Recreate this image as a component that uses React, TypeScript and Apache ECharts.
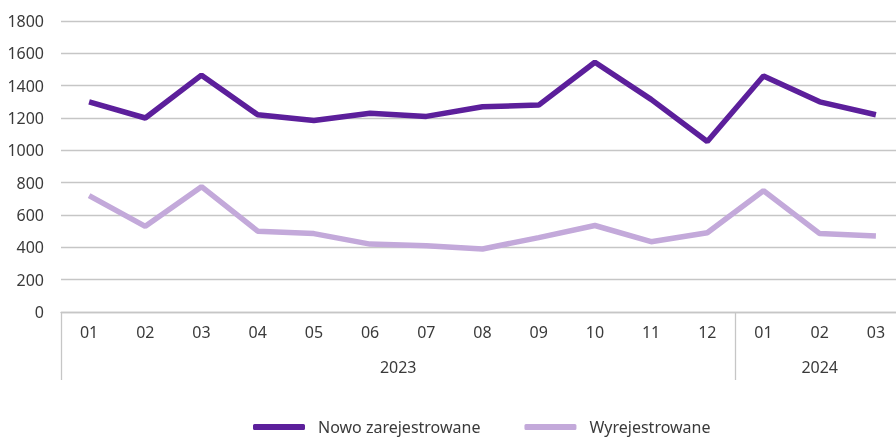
import React, { useEffect, useRef } from "react";
import * as echarts from "echarts";

const months = ["01", "02", "03", "04", "05", "06", "07", "08", "09", "10", "11", "12", "01", "02", "03"];
const years = ["2023", "2024"];
const yearSpans = [12, 3];
const newlyRegistered = [1300, 1200, 1465, 1220, 1185, 1230, 1210, 1270, 1280, 1545, 1315, 1055, 1460, 1300, 1220];
const deregistered = [720, 530, 775, 500, 485, 420, 410, 390, 460, 535, 435, 490, 750, 485, 470];
const yTicks = [0, 200, 400, 600, 800, 1000, 1200, 1400, 1600, 1800];

const FONT = "Noto Sans";
const TEXT = "#3a3a3a";

export default function App() {
  const ref = useRef<HTMLDivElement>(null);
  useEffect(() => {
    document.body.style.margin = "0";
    const chart = echarts.init(ref.current!, null, { renderer: "svg" });
    const yearCenters: Record<string, string> = {};
    const sepIdx = new Set<number>();
    let acc = 0;
    years.forEach((y, i) => {
      sepIdx.add(acc);
      yearCenters[String(acc + yearSpans[i] / 2)] = y;
      acc += yearSpans[i];
    });
    chart.setOption({
      animation: false,
      grid: { left: 61, right: 0, top: 21, bottom: 126, containLabel: false },
      legend: {
        left: 253,
        top: 419,
        padding: 0,
        itemWidth: 52,
        itemHeight: 6,
        itemGap: 44,
        icon: "roundRect",
        textStyle: { fontFamily: FONT, fontSize: 16, lineHeight: 16, color: TEXT, padding: [0, 0, 0, 8] },
        data: ["Nowo zarejestrowane", "Wyrejestrowane"],
      },
      xAxis: [
        {
          type: "category",
          data: months,
          boundaryGap: true,
          axisLine: { lineStyle: { color: "#c6c6c6", width: 1.3 } },
          axisTick: { show: false },
          axisLabel: { margin: 12, fontFamily: FONT, fontSize: 16, color: TEXT, interval: 0 },
        },
        {
          type: "category",
          data: months.map((_, i) => String(i)),
          position: "bottom",
          boundaryGap: true,
          axisLine: { show: false },
          axisTick: {
            show: true,
            interval: (i: number) => sepIdx.has(i),
            length: 68,
            lineStyle: { color: "#c6c6c6", width: 1.3 },
          },
          axisLabel: { show: false },
        },
        {
          type: "value",
          min: 0,
          max: months.length,
          interval: 0.5,
          position: "bottom",
          axisLine: { show: false },
          axisTick: { show: false },
          splitLine: { show: false },
          axisLabel: {
            margin: 47,
            fontFamily: FONT,
            fontSize: 16,
            color: TEXT,
            formatter: (v: number) => yearCenters[String(v)] || "",
          },
        },
      ],
      yAxis: {
        type: "value",
        min: yTicks[0],
        max: yTicks[yTicks.length - 1],
        interval: 200,
        axisLine: { show: false },
        axisTick: { show: false },
        splitLine: { lineStyle: { color: "#c6c6c6", width: 1.3 } },
        axisLabel: {
          margin: 17,
          fontFamily: FONT,
          fontSize: 16,
          color: TEXT,
          formatter: (v: number) => String(v),
        },
      },
      series: [
        {
          name: "Nowo zarejestrowane",
          type: "line",
          data: newlyRegistered,
          symbol: "none",
          lineStyle: { color: "#5c1f9b", width: 5.5 },
          itemStyle: { color: "#5c1f9b" },
        },
        {
          name: "Wyrejestrowane",
          type: "line",
          data: deregistered,
          symbol: "none",
          lineStyle: { color: "#c3a9da", width: 5.5 },
          itemStyle: { color: "#c3a9da" },
        },
      ],
    });
    return () => chart.dispose();
  }, []);
  return (
    <div style={{ position: "fixed", left: 0, top: 0, width: 896, height: 438, overflow: "hidden" }}>
      <div ref={ref} style={{ width: 907, height: 438 }} />
    </div>
  );
}
